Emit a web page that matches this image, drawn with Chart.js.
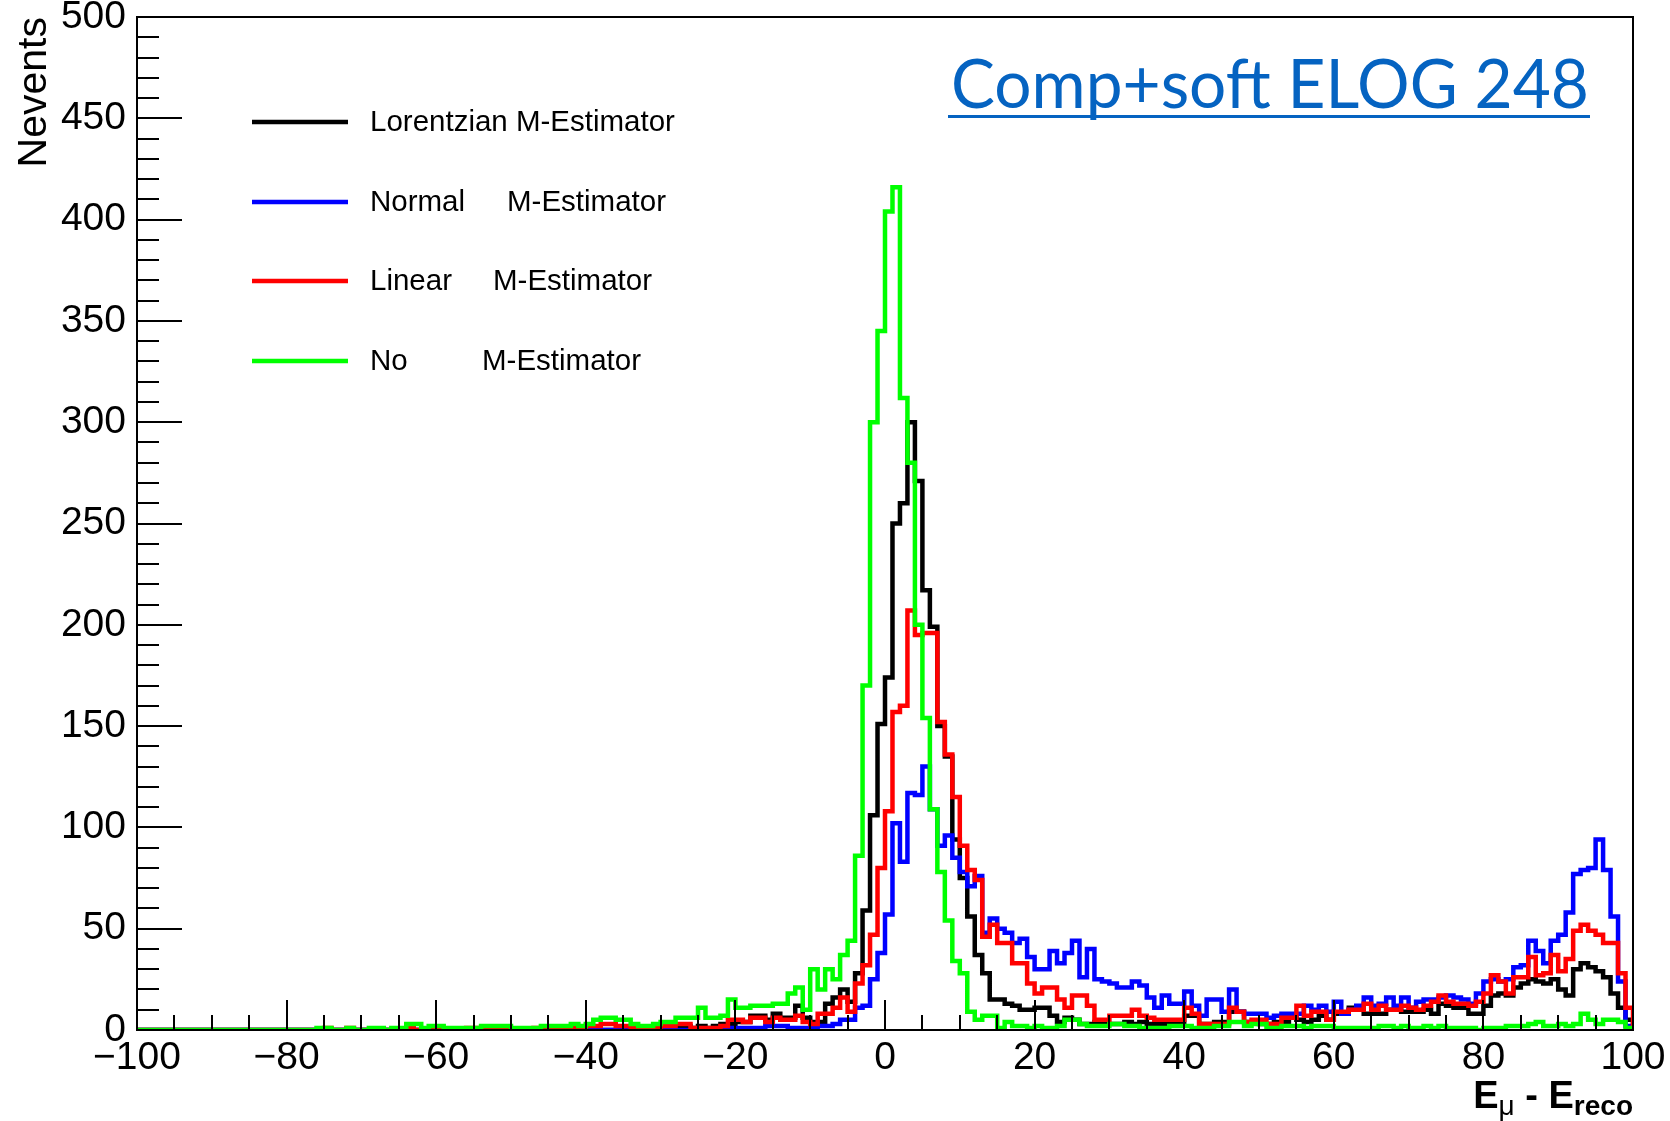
<!DOCTYPE html>
<html>
<head>
<meta charset="utf-8">
<script src="https://cdn.jsdelivr.net/npm/chart.js@4.4.1/dist/chart.umd.min.js"></script>
<style>
html,body{margin:0;padding:0;background:#ffffff;}
canvas{display:block;}
</style>
</head>
<body>
<canvas id="c" width="1670" height="1121" style="width:1670px;height:1121px"></canvas>
<script>
// ---------------- data ----------------
const xMin = -100, xMax = 100, binWidth = 1;
const yMin = 0, yMax = 500;
const xTickValues = [-100, -80, -60, -40, -20, 0, 20, 40, 60, 80, 100];
const yTickValues = [0, 50, 100, 150, 200, 250, 300, 350, 400, 450, 500];
const xMinorStep = 5, yMinorStep = 10;

const seriesNames = ["Lorentzian M-Estimator", "Normal     M-Estimator", "Linear     M-Estimator", "No         M-Estimator"];
const seriesColors = ["#000000", "#0000ff", "#ff0000", "#00ff00"];

// bin contents, bins of width 1 from -100 to 100 (one row = 10 bins)
const lorentzian = [
  0,0,0,0,0,0,0,0,0,0,
  0,0,0,0,0,0,0,0,0,0,
  0,0,0,0,0,0,0,0,0,0,
  0,0,0,0,0,0,0,0,0,0,
  0,0,0,0,0,0,0,0,1,0,
  0,0,0,0,0,0,0,0,0,0,
  0,0,0,0,0,0,1,0,1,1,
  1,1,1,2,1,2,1,2,3,3,
  4,4,7,7,5,8,6,6,12,6,
  4,4,13,16,20,14,28,59,106,151,
  174,250,260,300,271,217,199,150,135,94,
  75,56,37,28,15,15,13,12,10,10,
  11,11,7,4,6,5,3,3,4,3,
  3,3,4,3,4,3,3,3,3,3,
  7,7,3,3,4,4,9,9,4,4,
  3,3,4,4,6,5,4,5,7,5,
  8,8,11,11,8,8,8,10,10,9,
  9,9,10,8,13,12,11,11,8,8,
  12,17,18,17,21,23,25,24,23,25,
  20,17,30,33,31,29,26,18,11,5
];
const normal = [
  0,0,0,0,0,0,0,0,0,0,
  0,0,0,0,0,0,0,0,0,0,
  0,0,0,0,0,0,0,0,0,0,
  0,0,0,0,0,0,0,0,0,0,
  0,0,0,0,0,0,0,0,0,0,
  0,0,0,0,0,0,0,0,0,0,
  0,0,0,0,0,0,0,0,0,0,
  0,0,0,0,0,0,0,0,1,1,
  1,1,1,1,2,2,2,1,1,1,
  1,2,2,3,5,5,11,12,25,38,
  57,102,83,117,116,130,109,91,96,85,
  78,71,76,48,55,50,48,43,45,36,
  30,30,39,33,38,44,26,40,25,24,
  23,21,21,24,22,16,11,17,13,13,
  19,12,7,15,15,9,20,9,8,8,
  8,6,7,8,8,8,12,10,12,9,
  14,8,10,12,16,12,13,16,12,16,
  11,14,15,15,16,17,16,15,13,18,
  24,25,24,25,31,32,44,39,33,44,
  47,58,77,79,80,94,79,56,24,2
];
const linear = [
  0,0,0,0,0,0,0,0,0,0,
  0,0,0,0,0,0,0,0,0,0,
  0,0,0,0,0,1,0,0,1,0,
  0,0,0,0,0,0,1,0,0,0,
  0,0,0,0,1,1,0,1,1,0,
  0,0,0,1,0,0,1,1,1,1,
  2,2,3,3,2,2,1,1,1,1,
  2,2,3,3,1,1,1,1,2,5,
  5,4,6,6,4,6,5,5,7,4,
  3,8,8,11,16,9,23,32,47,80,
  108,157,160,207,195,196,196,152,136,115,
  91,79,74,46,52,43,43,33,33,23,
  18,21,21,15,11,17,17,12,5,5,
  7,7,7,10,7,6,5,5,5,5,
  11,8,3,3,3,3,11,9,4,5,
  5,3,3,6,6,12,7,9,9,5,
  9,9,10,10,13,10,12,10,10,12,
  11,10,12,14,17,14,13,13,12,14,
  18,27,24,18,26,26,36,27,28,37,
  29,35,49,52,49,47,43,43,28,11
];
const noEstimator = [
  0,0,0,0,0,0,0,0,0,0,
  0,0,0,0,0,0,0,0,0,0,
  0,0,0,0,1,1,0,0,1,0,
  0,1,1,0,1,1,3,3,1,2,
  2,1,1,1,1,1,2,2,2,2,
  1,1,1,1,2,2,2,2,3,2,
  3,5,6,6,5,5,3,2,2,3,
  4,4,6,6,6,11,6,6,7,15,
  11,11,12,12,12,13,13,18,21,10,
  30,20,30,25,37,44,86,170,300,345,
  404,416,312,280,200,154,109,78,54,34,
  28,9,5,7,7,1,4,2,2,1,
  2,1,1,2,5,5,3,2,2,2,
  3,3,2,2,1,1,1,1,2,2,
  2,1,1,1,2,2,4,4,2,3,
  3,1,1,2,2,2,1,2,2,2,
  1,1,1,1,1,1,2,2,1,2,
  1,1,2,1,2,1,1,1,1,0,
  1,1,1,2,2,2,3,4,2,2,
  3,2,3,8,5,3,5,5,4,1
];
const seriesValues = [lorentzian, normal, linear, noEstimator];

// ---------------- helpers ----------------
function stepPoints(values) {
  const pts = values.map((v, i) => ({ x: xMin + i * binWidth, y: v }));
  pts.push({ x: xMin + values.length * binWidth, y: values[values.length - 1] });
  pts.push({ x: xMin + values.length * binWidth, y: 0 });
  return pts;
}
function fmtTick(v) { return v < 0 ? '\u2212' + Math.abs(v) : String(v); }

const FONT = '"Liberation Sans", Arial, Helvetica, sans-serif';

// ---------------- decoration plugin ----------------
const rootStyle = {
  id: 'rootStyle',
  afterDatasetsDraw(chart) {
    const { ctx, chartArea: a, scales } = chart;
    const xs = scales.x, ys = scales.y;
    ctx.save();
    ctx.strokeStyle = '#000';
    ctx.lineWidth = 2;
    ctx.beginPath();
    for (let v = yMin; v <= yMax; v += yMinorStep) {
      const py = Math.round(ys.getPixelForValue(v));
      const len = yTickValues.includes(v) ? 45 : 22;
      ctx.moveTo(a.left, py); ctx.lineTo(a.left + len, py);
    }
    for (let v = xMin; v <= xMax; v += xMinorStep) {
      const px = Math.round(xs.getPixelForValue(v));
      const len = xTickValues.includes(v) ? 30 : 15;
      ctx.moveTo(px, a.bottom); ctx.lineTo(px, a.bottom - len);
    }
    ctx.stroke();
    ctx.strokeRect(a.left, a.top, a.right - a.left, a.bottom - a.top);
    ctx.restore();
  },
  afterDraw(chart) {
    const { ctx, chartArea: a } = chart;
    ctx.save();
    // legend
    const rowsY = [122, 202, 281, 361];
    const secondX = [null, 507, 493, 482];
    ctx.font = '29.5px ' + FONT;
    ctx.textBaseline = 'middle';
    ctx.fillStyle = '#000';
    seriesNames.forEach((name, i) => {
      ctx.strokeStyle = seriesColors[i];
      ctx.lineWidth = 4.5;
      ctx.beginPath();
      ctx.moveTo(252, rowsY[i]); ctx.lineTo(348, rowsY[i]);
      ctx.stroke();
      const parts = name.split(/\s{2,}/);
      ctx.fillText(parts[0], 370, rowsY[i] + 1);
      if (parts.length > 1) ctx.fillText(parts[1], secondX[i], rowsY[i] + 1);
    });

    // y-axis title
    ctx.save();
    ctx.translate(46, 17);
    ctx.rotate(-Math.PI / 2);
    ctx.font = '41px ' + FONT;
    ctx.textAlign = 'right';
    ctx.textBaseline = 'alphabetic';
    ctx.fillStyle = '#000';
    ctx.fillText('Nevents', 0, 0);
    ctx.restore();

    // x-axis title: E_mu - E_reco (right aligned)
    const parts = [
      { t: 'E', f: 'bold 38px ' + FONT, dy: 0 },
      { t: '\u03bc', f: '28px ' + FONT, dy: 7 },
      { t: ' - E', f: 'bold 38px ' + FONT, dy: 0 },
      { t: 'reco', f: 'bold 28px ' + FONT, dy: 7 }
    ];
    let total = 0;
    parts.forEach(p => { ctx.font = p.f; p.w = ctx.measureText(p.t).width; total += p.w; });
    let px = a.right - total;
    const base = 1108;
    ctx.textAlign = 'left';
    ctx.textBaseline = 'alphabetic';
    parts.forEach(p => { ctx.font = p.f; ctx.fillText(p.t, px, base + p.dy); px += p.w; });

    // hyperlink-style annotation
    const label = 'Comp+soft ELOG 248';
    ctx.font = '68px Lato, "Open Sans", sans-serif';
    const w = ctx.measureText(label).width;
    const targetW = 638;
    ctx.save();
    ctx.translate(951, 108);
    ctx.scale(targetW / w, 1);
    ctx.fillStyle = '#0563c1';
    ctx.fillText(label, 0, 0);
    ctx.restore();
    ctx.fillStyle = '#0563c1';
    ctx.fillRect(948, 115, 642, 3);
    ctx.restore();
  }
};

// ---------------- chart ----------------
const datasets = seriesValues.map((vals, i) => ({
  label: seriesNames[i],
  data: stepPoints(vals),
  borderColor: seriesColors[i],
  backgroundColor: seriesColors[i],
  borderWidth: 4.5,
  pointRadius: 0,
  stepped: 'before',
  fill: false,
  order: 4 - i
}));

new Chart(document.getElementById('c'), {
  type: 'line',
  data: { datasets },
  options: {
    responsive: false,
    animation: false,
    devicePixelRatio: 1,
    events: [],
    layout: { padding: { top: 17, right: 37, left: 0, bottom: 0 } },
    plugins: { legend: { display: false }, tooltip: { enabled: false } },
    scales: {
      x: {
        type: 'linear', min: xMin, max: xMax,
        grid: { display: false, drawTicks: false },
        border: { display: false },
        ticks: {
          stepSize: 20, autoSkip: false, maxRotation: 0, minRotation: 0,
          padding: 5, color: '#000', font: { family: FONT, size: 39 },
          callback: v => fmtTick(v)
        },
        afterFit(s) { s.height = 91; s.paddingLeft = 0; s.paddingRight = 0; }
      },
      y: {
        type: 'linear', min: yMin, max: yMax,
        grid: { display: false, drawTicks: false },
        border: { display: false },
        ticks: {
          stepSize: 50, autoSkip: false, padding: 11, color: '#000',
          font: { family: FONT, size: 39 },
          callback: v => fmtTick(v)
        },
        afterFit(s) { s.width = 137; s.paddingTop = 0; s.paddingBottom = 0; }
      }
    }
  },
  plugins: [rootStyle]
});
</script>
</body>
</html>
